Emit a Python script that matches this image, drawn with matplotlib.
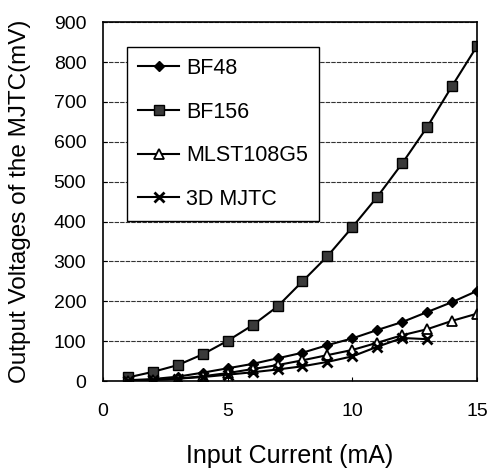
import matplotlib
matplotlib.use("Agg")
import matplotlib.pyplot as plt

current = [1, 2, 3, 4, 5, 6, 7, 8, 9, 10, 11, 12, 13, 14, 15]  # мА
bf48 = [2, 5, 11, 21, 32, 43, 57, 71, 90, 107, 128, 148, 173, 198, 226]
bf156 = [9, 23, 40, 67, 101, 140, 187, 250, 313, 386, 462, 546, 637, 740, 840]
mlst108g5 = [1, 3, 6, 12, 20, 30, 40, 52, 65, 78, 96, 115, 130, 151, 169]
current_3d = [1, 2, 3, 4, 5, 6, 7, 8, 9, 10, 11, 12, 13]
mjtc_3d = [1, 3, 6, 10, 16, 22, 29, 37, 48, 62, 86, 108, 105]

plt.rcParams['font.family'] = ['Liberation Sans', 'DejaVu Sans']

fig = plt.figure(figsize=(4.89, 4.71), dpi=100)
ax = fig.add_axes([0.2106, 0.191, 0.765, 0.762])

ax.plot(current, bf48, color='black', lw=1.5, marker='D', ms=5,
        mfc='black', mec='black', label='BF48')
ax.plot(current, bf156, color='black', lw=1.5, marker='s', ms=6.5,
        mfc='#3a3a3a', mec='black', mew=1.0, label='BF156')
ax.plot(current, mlst108g5, color='black', lw=1.5, marker='^', ms=6.5,
        mfc='white', mec='black', mew=1.3, label='MLST108G5')
ax.plot(current_3d, mjtc_3d, color='black', lw=1.5, marker='x', ms=6.5,
        mew=2, label='3D MJTC')

ax.set_xlim(0, 15)
ax.set_ylim(0, 900)
ax.set_xticks([0, 5, 10, 15])
ax.set_yticks(range(0, 901, 100))
ax.yaxis.grid(True, color='#333333', lw=0.8, ls=(0, (4, 1)))
ax.set_axisbelow(True)
ax.tick_params(axis='both', direction='in', labelsize=14, length=3)
ax.tick_params(axis='x', pad=16)
ax.tick_params(axis='y', pad=12)
for s in ax.spines.values():
    s.set_linewidth(1.2)

ax.set_xlabel('Input Current (mA)', fontsize=18, labelpad=17)
ax.set_ylabel('Output Voltages of the MJTC(mV)', fontsize=17.5, labelpad=16)

leg = ax.legend(loc='upper left', bbox_to_anchor=(0.065, 0.93), fontsize=15.5,
                handlelength=1.9, handletextpad=0.33, labelspacing=1.05,
                borderpad=0.5, borderaxespad=0, fancybox=False, framealpha=1,
                edgecolor='black')
leg.get_frame().set_linewidth(1.0)

fig.savefig('out.png', dpi=100)
